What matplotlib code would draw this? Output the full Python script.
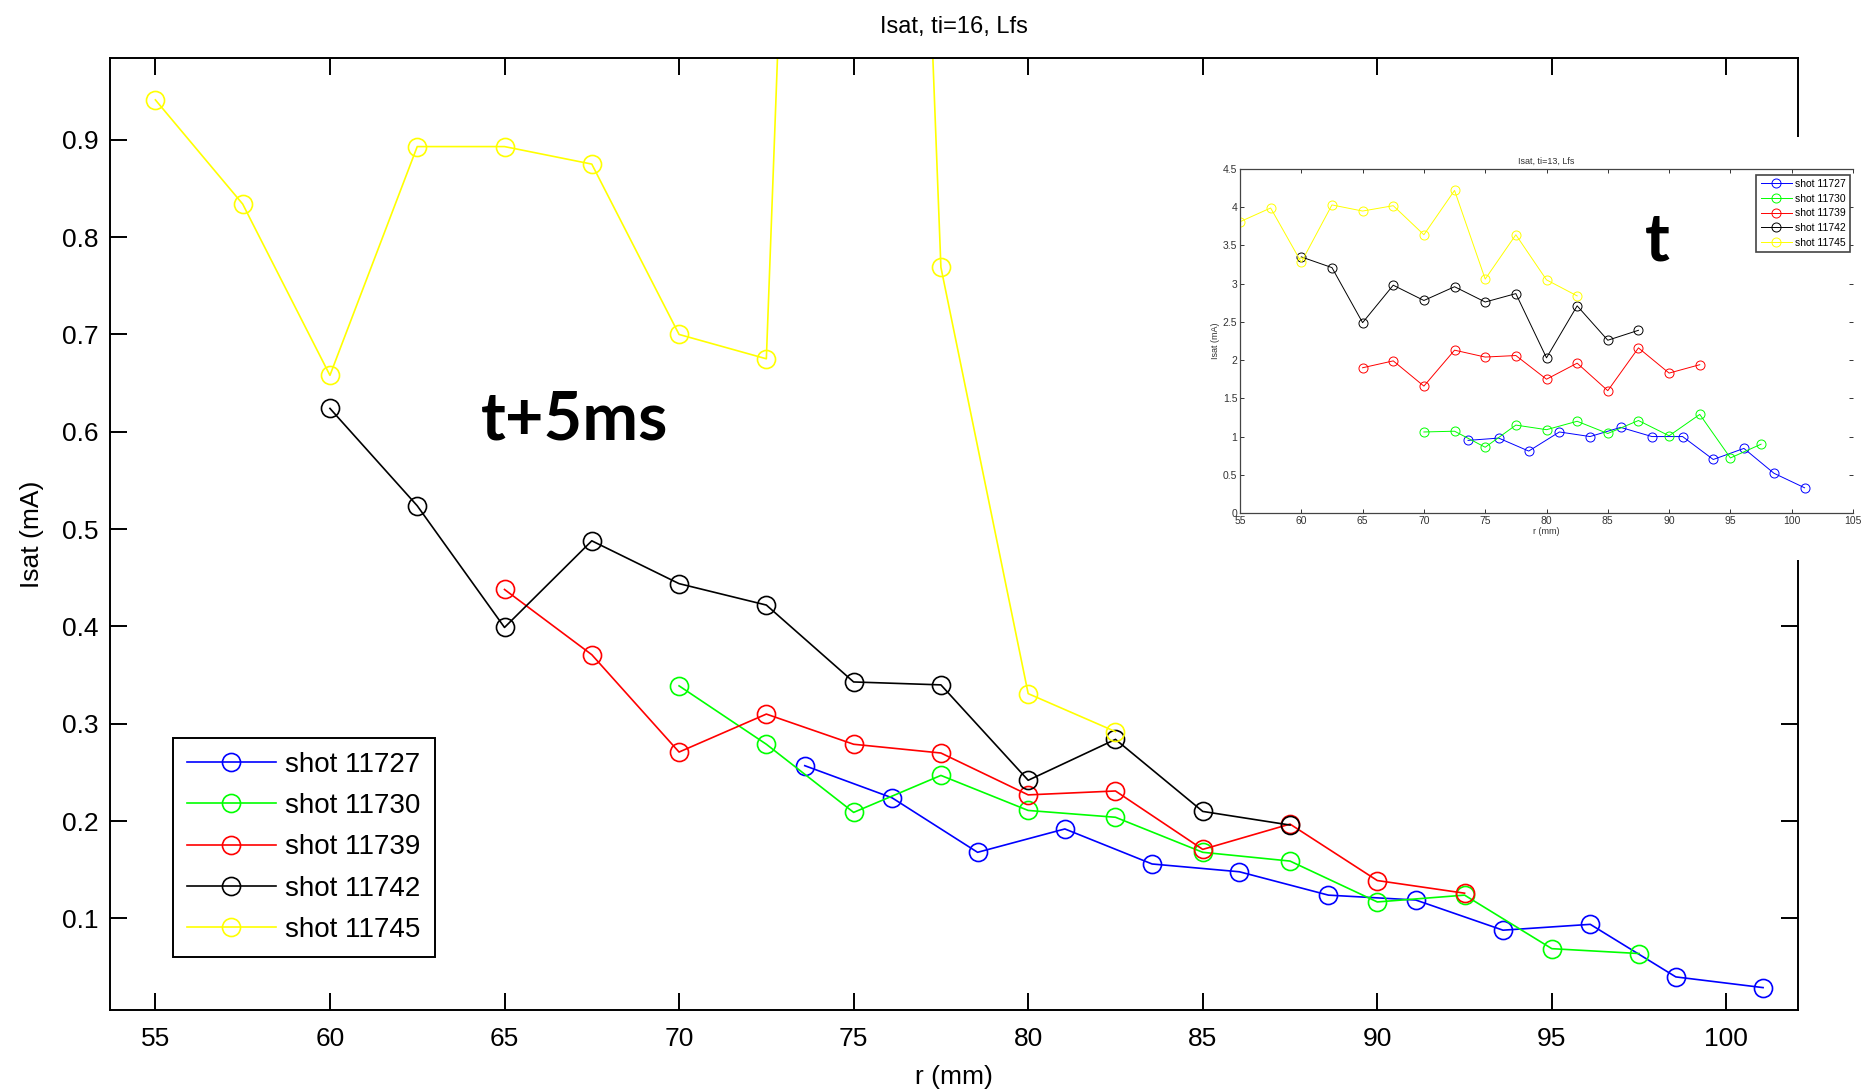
import matplotlib.pyplot as plt
from matplotlib.patches import Rectangle

# ---- main plot data (t + 5 ms) ----
r_step = [55, 57.5, 60, 62.5, 65, 67.5, 70, 72.5, 75, 77.5, 80, 82.5,
          85, 87.5, 90, 92.5, 95, 97.5]
r_11727 = [73.6, 76.1, 78.55, 81.05, 83.55, 86.05, 88.6, 91.1, 93.6, 96.1, 98.55, 101.05]
isat_11727 = [0.257, 0.224, 0.168, 0.192, 0.156, 0.148, 0.124, 0.119, 0.088, 0.094, 0.040, 0.029]
r_11730 = r_step[6:18]
isat_11730 = [0.339, 0.279, 0.209, 0.247, 0.211, 0.204, 0.168, 0.159, 0.117, 0.124, 0.069, 0.064]
r_11739 = r_step[4:16]
isat_11739 = [0.438, 0.371, 0.271, 0.310, 0.279, 0.270, 0.227, 0.231, 0.171, 0.197, 0.139, 0.126]
r_11742 = r_step[2:14]
isat_11742 = [0.624, 0.524, 0.399, 0.488, 0.444, 0.422, 0.343, 0.340, 0.242, 0.284, 0.210, 0.196]
r_11745 = r_step[0:12]
isat_11745 = [0.941, 0.834, 0.658, 0.893, 0.893, 0.875, 0.700, 0.675, 3.1, 0.769, 0.331, 0.292]

# ---- inset data (t) ----
ins_11727 = [0.95, 0.98, 0.81, 1.06, 1.00, 1.12, 1.00, 1.00, 0.70, 0.845, 0.52, 0.33]
ins_11730 = [1.06, 1.07, 0.86, 1.15, 1.09, 1.20, 1.04, 1.21, 1.01, 1.29, 0.72, 0.90]
ins_11739 = [1.90, 1.99, 1.66, 2.13, 2.04, 2.06, 1.75, 1.96, 1.60, 2.16, 1.83, 1.94]
ins_11742 = [3.35, 3.21, 2.49, 2.98, 2.78, 2.96, 2.76, 2.87, 2.03, 2.71, 2.26, 2.39]
ins_11745 = [3.81, 3.99, 3.28, 4.03, 3.95, 4.02, 3.64, 4.22, 3.06, 3.64, 3.05, 2.84]

labels = ["shot 11727", "shot 11730", "shot 11739", "shot 11742", "shot 11745"]
colors = ["#0000ff", "#00ff00", "#ff0000", "#000000", "#ffff00"]

plt.rcParams["font.family"] = ["Liberation Sans", "DejaVu Sans"]

W, H = 1863, 1090
fig = plt.figure(figsize=(W / 100, H / 100), dpi=100)

# main axes
ax = fig.add_axes([110 / W, 1 - 1010 / H, (1798 - 110) / W, (1010 - 58) / H])
main_series = [(r_11727, isat_11727), (r_11730, isat_11730), (r_11739, isat_11739),
               (r_11742, isat_11742), (r_11745, isat_11745)]
for (x, y), c, lab in zip(main_series, colors, labels):
    ax.plot(x, y, "-o", color=c, lw=1.2, ms=13, mfc="none", mec=c, mew=1.2, label=lab)

ax.set_xlim(53.7, 102.05)
ax.set_ylim(0.006, 0.984)
ax.set_xticks([55, 60, 65, 70, 75, 80, 85, 90, 95, 100])
ax.set_yticks([0.1, 0.2, 0.3, 0.4, 0.5, 0.6, 0.7, 0.8, 0.9])
ax.set_yticklabels(["0.1", "0.2", "0.3", "0.4", "0.5", "0.6", "0.7", "0.8", "0.9"])
ax.tick_params(direction="in", length=12, width=1.4, top=True, right=True,
               labelsize=19, pad=8)
ax.tick_params(axis="x", pad=12)
for s in ax.spines.values():
    s.set_linewidth(1.4)
ax.set_title("Isat, ti=16, Lfs", fontsize=17, pad=18)
ax.set_xlabel("r (mm)", fontsize=19, labelpad=10)
ax.set_ylabel("Isat (mA)", fontsize=19, labelpad=13)

leg = ax.legend(loc="upper left", bbox_to_anchor=(0.0373, 0.2857), borderaxespad=0,
                fontsize=20, handlelength=3.2, handletextpad=0.35, labelspacing=0.55,
                borderpad=0.5, fancybox=False, framealpha=1, edgecolor="black")
leg.get_frame().set_linewidth(1.4)

ax.text(575 / W, 1 - 420 / H, "t+5ms", transform=fig.transFigure, ha="center",
        va="center", fontsize=48, fontweight="bold", family="Lato")

# white area of the pasted inset picture
fig.add_artist(Rectangle((1192 / W, 1 - 560 / H), (W - 1192) / W, (560 - 137) / H,
                         transform=fig.transFigure, facecolor="white",
                         edgecolor="none", zorder=0.5))

# inset axes
ins = fig.add_axes([1240 / W, 1 - 513 / H, 613 / W, 344 / H], zorder=1)
inset_series = [(r_11727, ins_11727), (r_11730, ins_11730), (r_11739, ins_11739),
                (r_11742, ins_11742), (r_11745, ins_11745)]
for (x, y), c, lab in zip(inset_series, colors, labels):
    ins.plot(x, y, "-o", color=c, lw=0.7, ms=6.5, mfc="none", mec=c, mew=0.7, label=lab)
ins.set_xlim(55, 105)
ins.set_ylim(0, 4.5)
ins.set_xticks(range(55, 106, 5))
ins.set_yticks([0, 0.5, 1, 1.5, 2, 2.5, 3, 3.5, 4, 4.5])
ins.set_yticklabels(["0", "0.5", "1", "1.5", "2", "2.5", "3", "3.5", "4", "4.5"])
ins.tick_params(direction="in", length=3, width=0.7, top=True, right=True,
                labelsize=7.5, pad=2, colors="#333333")
for s in ins.spines.values():
    s.set_linewidth(0.9)
    s.set_color("#444444")
ins.spines["right"].set_visible(False)
ins.set_title("Isat, ti=13, Lfs", fontsize=6.5, pad=4, color="#333333")
ins.set_xlabel("r (mm)", fontsize=6.5, labelpad=1, color="#333333")
ins.set_ylabel("Isat (mA)", fontsize=6.5, labelpad=2, color="#333333")
ileg = ins.legend(loc="upper right", bbox_to_anchor=(0.995, 0.983), borderaxespad=0,
                  fontsize=7.5, handlelength=3.0, handletextpad=0.3, labelspacing=0.45,
                  fancybox=False, framealpha=1, edgecolor="#444444")
ileg.get_frame().set_linewidth(1.2)

ins.text(0.68, 0.79, "t", transform=ins.transAxes, ha="center", va="center",
         fontsize=48, fontweight="bold", family="Lato")

fig.savefig("out.png", dpi=100)
